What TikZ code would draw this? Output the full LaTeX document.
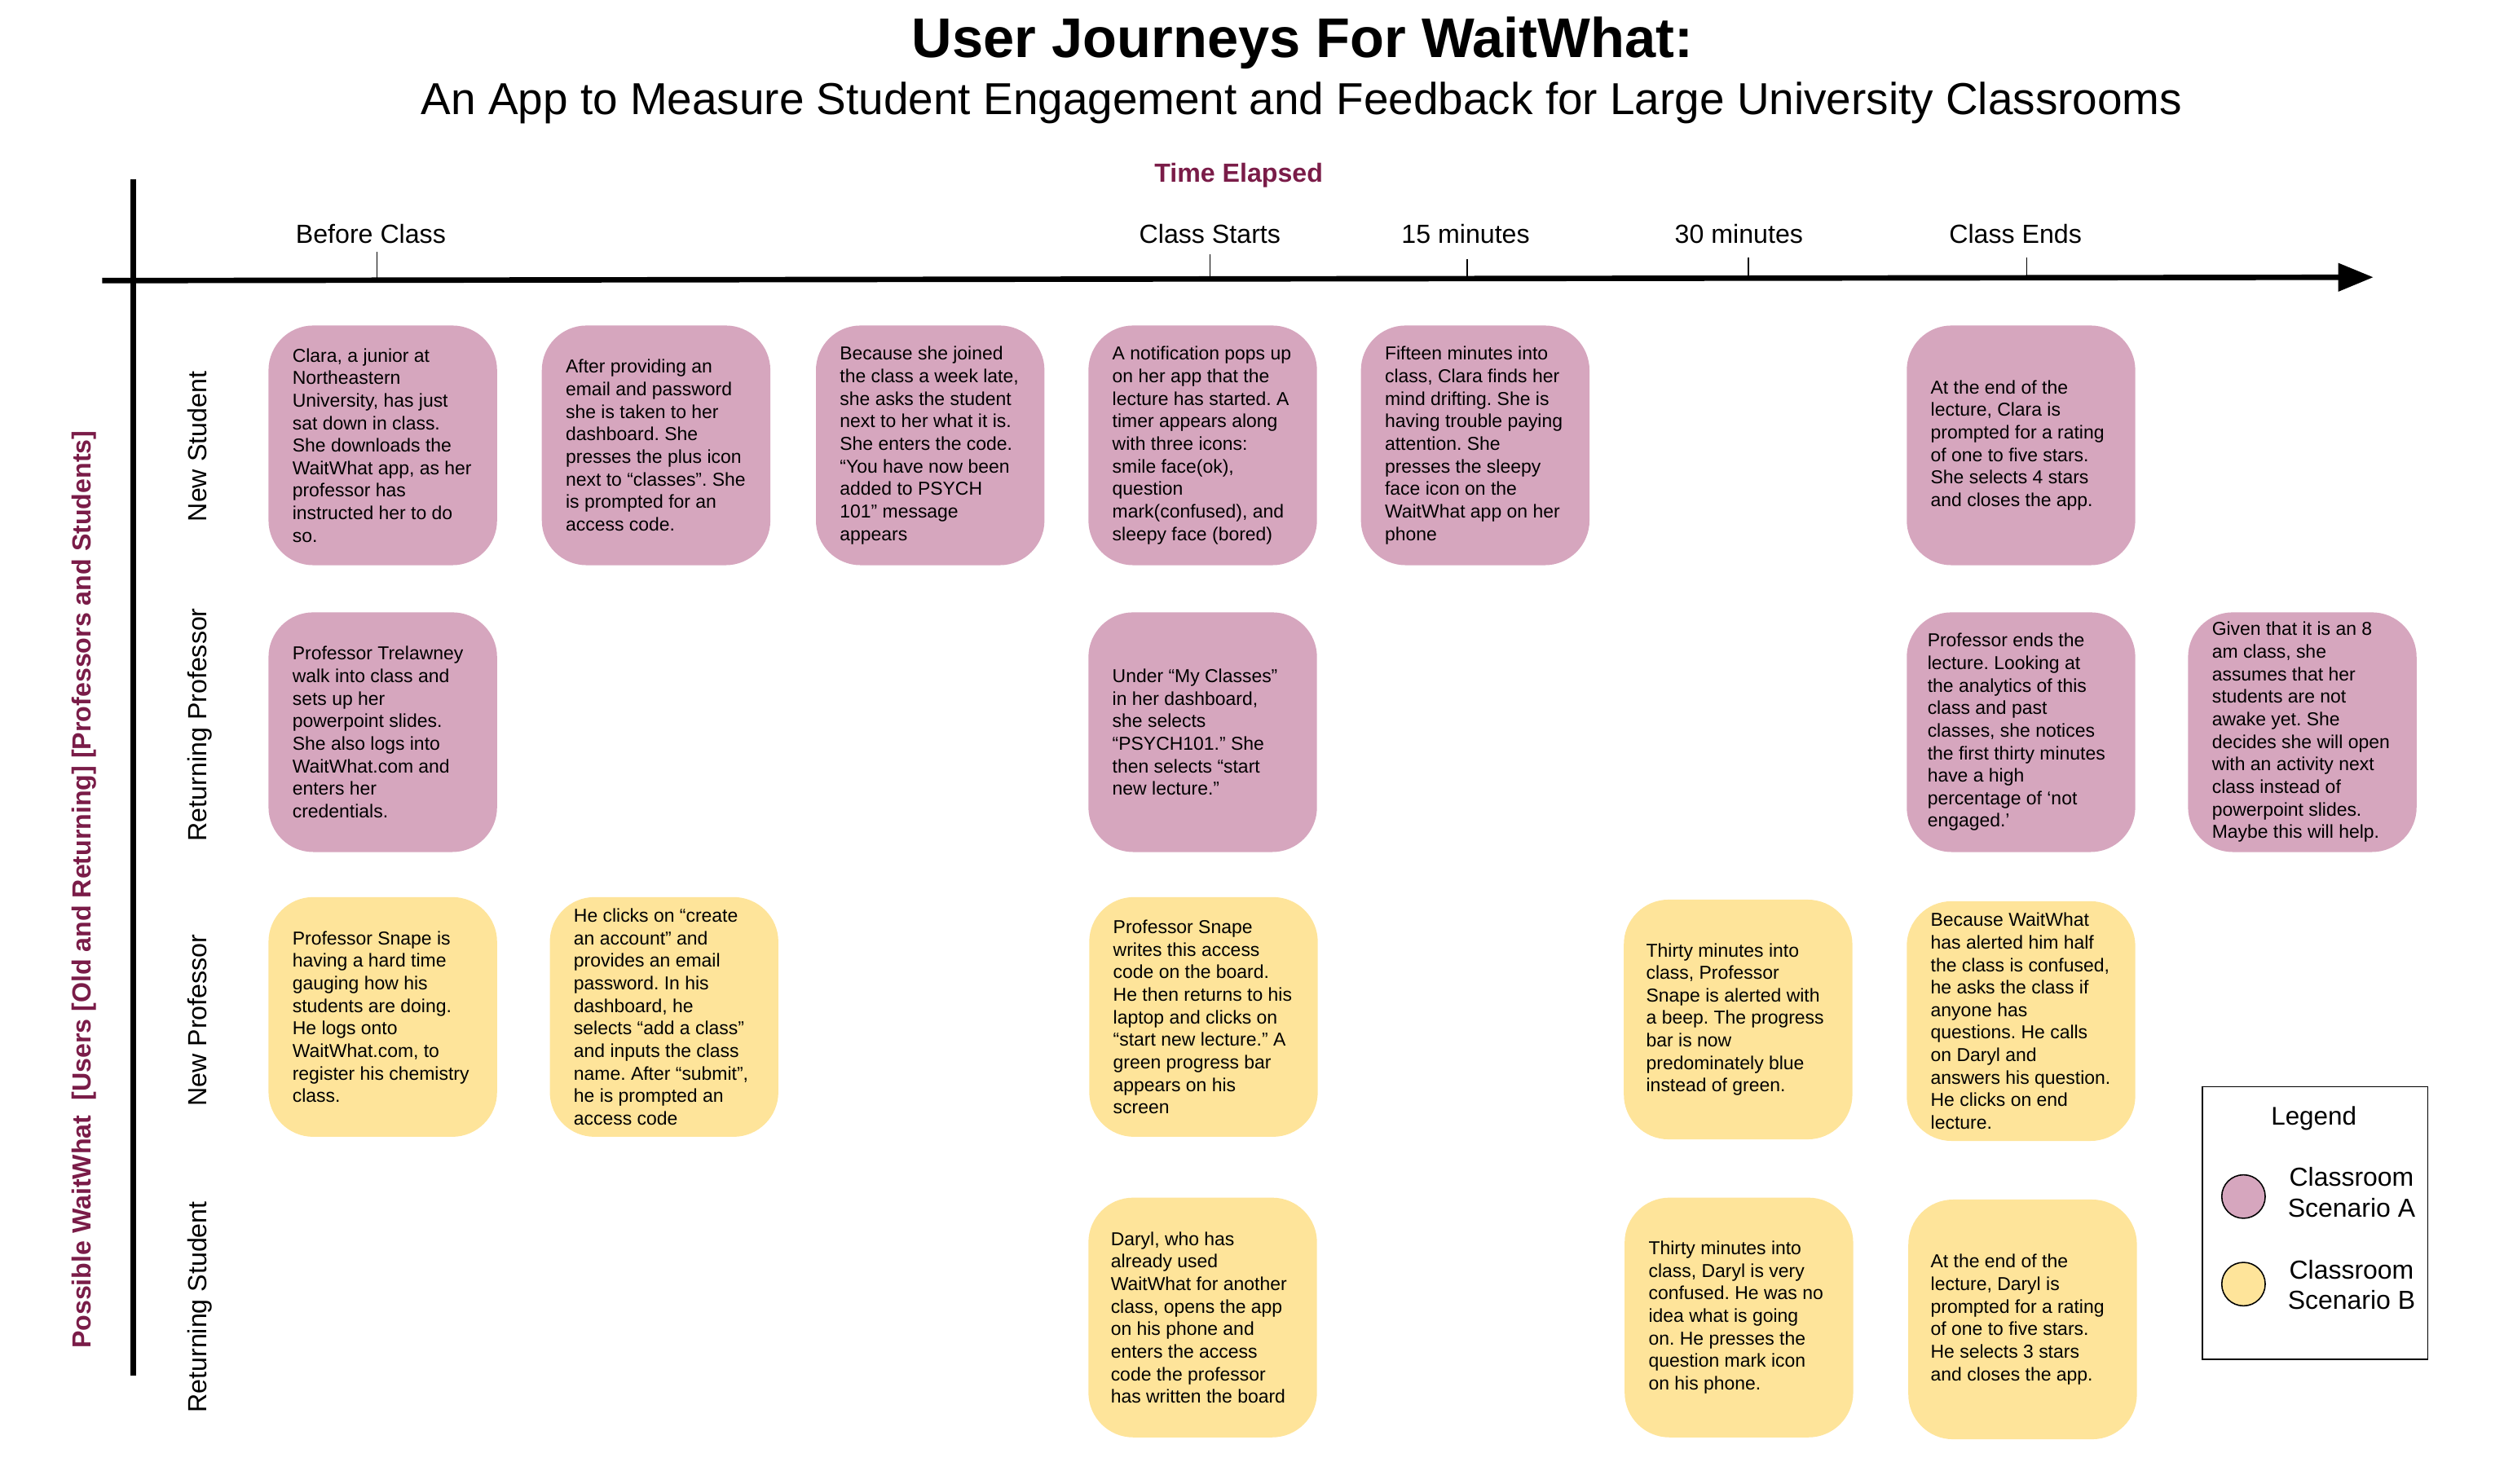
\documentclass[tikz,border=0pt]{standalone}
\usepackage{fontspec}
\setmainfont{Liberation Sans}
\usetikzlibrary{arrows.meta}
\definecolor{pinkA}{RGB}{214,166,190}
\definecolor{yellowB}{RGB}{254,228,154}
\definecolor{maroonT}{RGB}{122,28,72}
\frenchspacing
\newcommand\mkcard[6]{%
  \node[#2] (#1) at (#3,#4) {};
  \node[cardtext] (#1t) at ([xshift=#5pt]#1.west) {#6};}
\begin{document}
\begin{tikzpicture}[x=1pt,y=-1pt,
  card/.style={rounded corners=28pt, minimum width=143pt, minimum height=150pt, inner sep=0pt},
  cardA/.style={card, fill=pinkA},
  cardB/.style={card, fill=yellowB},
  cardtext/.style={anchor=west, align=left, inner sep=0pt, font=\fontsize{11.7}{14.1}\selectfont},
  timelabel/.style={anchor=base, inner sep=0pt, font=\fontsize{16.4}{19}\selectfont},
  rowlabel/.style={anchor=base, rotate=90, inner sep=0pt, font=\fontsize{16.4}{19}\selectfont},
  tickline/.style={line width=0.7pt},
  axisline/.style={line width=3.4pt},
  legdot/.style={circle, draw=black, line width=0.8pt, minimum size=27.2pt, inner sep=0pt},
  legtext/.style={align=center, inner sep=0pt, font=\fontsize{16.3}{19}\selectfont}
]
\useasboundingbox (0,0) rectangle (1566.7,928.7);

% titles
\node[anchor=base, inner sep=0pt, font=\fontsize{35}{42}\selectfont\bfseries] (title) at (815,36) {User Journeys For WaitWhat:};
\node[anchor=base, inner sep=0pt, font=\fontsize{28}{34}\selectfont] (subtitle) at (814.5,71.4) {An App to Measure Student Engagement and Feedback for Large University Classrooms};
\node[anchor=base, inner sep=0pt, text=maroonT, font=\fontsize{16.4}{19}\selectfont\bfseries] (elapsed) at (775,114) {Time Elapsed};

% axes
\coordinate (hxL) at (64,175.6);
\coordinate (hxR) at (1485,173.5);
\draw[axisline, -{Triangle[length=22pt,width=17pt]}] (hxL) -- (hxR);
\coordinate (vxT) at (83.4,112);
\coordinate (vxB) at (83.4,861);
\draw[axisline] (vxT) -- (vxB);

% ticks and time labels
\node[timelabel] (tBefore) at (232,152) {Before Class};
\node[timelabel] (tStart) at (757,152) {Class Starts};
\node[timelabel] (t15) at (917,152) {15 minutes};
\node[timelabel] (t30) at (1088,152) {30 minutes};
\node[timelabel] (tEnd) at (1261,152) {Class Ends};
\draw[tickline] (236,157.5) -- (236,175);
\draw[tickline] (757,159) -- (757,174.5);
\draw[tickline] (918,162) -- (918,174.3);
\draw[tickline] (1094,161) -- (1094,174);
\draw[tickline] (1268,161) -- (1268,173.8);

% row labels
\node[rowlabel] (rNS) at (129.5,279.5) {New Student};
\node[rowlabel] (rRP) at (129.5,453.5) {Returning Professor};
\node[rowlabel] (rNP) at (129.5,638.5) {New Professor};
\node[rowlabel] (rRS) at (129.5,818) {Returning Student};
\node[anchor=base, rotate=90, inner sep=0pt, text=maroonT, font=\fontsize{16.4}{19}\selectfont\bfseries] (ylab) at (57,556.8) {Possible WaitWhat\ \ [Users [Old and Returning] [Professors and Students]};

% row 1: New Student
\mkcard{a1}{cardA}{239.5}{278.7}{15}{Clara, a junior at\\Northeastern\\University, has just\\sat down in class.\\She downloads the\\WaitWhat app, as her\\professor has\\instructed her to do\\so.}
\mkcard{b1}{cardA}{410.5}{278.7}{15}{After providing an\\email and password\\she is taken to her\\dashboard. She\\presses the plus icon\\next to “classes”. She\\is prompted for an\\access code.}
\mkcard{c1}{cardA}{582}{278.7}{15}{Because she joined\\the class a week late,\\she asks the student\\next to her what it is.\\She enters the code.\\“You have now been\\added to PSYCH\\101” message\\appears}
\mkcard{d1}{cardA}{752.5}{278.7}{15}{A notification pops up\\on her app that the\\lecture has started. A\\timer appears along\\with three icons:\\smile face(ok),\\question\\mark(confused), and\\sleepy face (bored)}
\mkcard{e1}{cardA}{923}{278.7}{15}{Fifteen minutes into\\class, Clara finds her\\mind drifting. She is\\having trouble paying\\attention. She\\presses the sleepy\\face icon on the\\WaitWhat app on her\\phone}
\mkcard{g1}{cardA}{1264.5}{278.7}{15}{At the end of the\\lecture, Clara is\\prompted for a rating\\of one to five stars.\\She selects 4 stars\\and closes the app.}

% row 2: Returning Professor
\mkcard{a2}{cardA}{239.5}{458.2}{15}{Professor Trelawney\\walk into class and\\sets up her\\powerpoint slides.\\She also logs into\\WaitWhat.com and\\enters her\\credentials.}
\mkcard{d2}{cardA}{752.5}{458.2}{15}{Under “My Classes”\\in her dashboard,\\she selects\\“PSYCH101.” She\\then selects “start\\new lecture.”}
\mkcard{g2}{cardA}{1264.5}{458.2}{13}{Professor ends the\\lecture. Looking at\\the analytics of this\\class and past\\classes, she notices\\the first thirty minutes\\have a high\\percentage of ‘not\\engaged.’}
\mkcard{h2}{cardA}{1440.5}{458.2}{15}{Given that it is an 8\\am class, she\\assumes that her\\students are not\\awake yet. She\\decides she will open\\with an activity next\\class instead of\\powerpoint slides.\\Maybe this will help.}

% row 3: New Professor
\mkcard{a3}{cardB}{239.5}{636.4}{15}{Professor Snape is\\having a hard time\\gauging how his\\students are doing.\\He logs onto\\WaitWhat.com, to\\register his chemistry\\class.}
\mkcard{b3}{cardB}{415.5}{636.4}{15}{He clicks on “create\\an account” and\\provides an email\\password. In his\\dashboard, he\\selects “add a class”\\and inputs the class\\name. After “submit”,\\he is prompted an\\access code}
\mkcard{d3}{cardB}{753}{636.4}{15}{Professor Snape\\writes this access\\code on the board.\\He then returns to his\\laptop and clicks on\\“start new lecture.” A\\green progress bar\\appears on his\\screen}
\mkcard{f3}{cardB}{1087.5}{638}{14}{Thirty minutes into\\class, Professor\\Snape is alerted with\\a beep. The progress\\bar is now\\predominately blue\\instead of green.}
\mkcard{g3}{cardB}{1264.5}{639}{15}{Because WaitWhat\\has alerted him half\\the class is confused,\\he asks the class if\\anyone has\\questions. He calls\\on Daryl and\\answers his question.\\He clicks on end\\lecture.}

% row 4: Returning Student
\mkcard{d4}{cardB}{752.5}{824.5}{14}{Daryl, who has\\already used\\WaitWhat for another\\class, opens the app\\on his phone and\\enters the access\\code the professor\\has written the board}
\mkcard{f4}{cardB}{1088}{824.5}{15}{Thirty minutes into\\class, Daryl is very\\confused. He was no\\idea what is going\\on. He presses the\\question mark icon\\on his phone.}
\mkcard{g4}{cardB}{1265.5}{825.7}{14}{At the end of the\\lecture, Daryl is\\prompted for a rating\\of one to five stars.\\He selects 3 stars\\and closes the app.}

% legend
\node[draw=black, line width=0.6pt, minimum width=141pt, minimum height=170.5pt, inner sep=0pt] (legend) at (1448.5,765.4) {};
\node[anchor=base, inner sep=0pt, font=\fontsize{16}{19}\selectfont] (legtitle) at (1447.7,704) {Legend};
\node[legdot, fill=pinkA] (legA) at (1403.7,748.8) {};
\node[legdot, fill=yellowB] (legB) at (1403.7,803.6) {};
\node[legtext] (legAt) at (1471.3,746.2) {Classroom\\Scenario A};
\node[legtext] (legBt) at (1471.3,803.9) {Classroom\\Scenario B};
\end{tikzpicture}
\end{document}
